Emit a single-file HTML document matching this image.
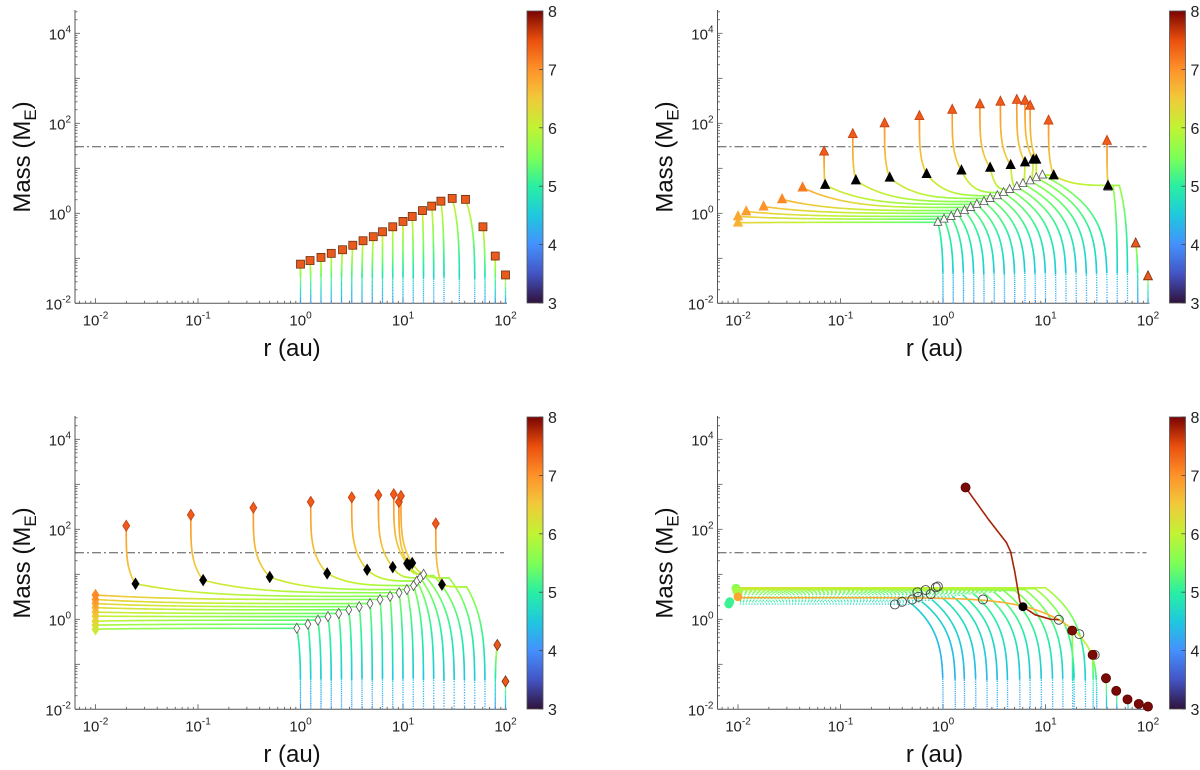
<!DOCTYPE html>
<html><head><meta charset="utf-8"><style>
html,body{margin:0;padding:0;background:#fff;}
svg{display:block;font-family:"Liberation Sans",Arial,sans-serif;}
</style></head><body>
<svg id="fig" width="1200" height="770" viewBox="0 0 1200 770" xmlns="http://www.w3.org/2000/svg"></svg>
<script>
// ---------- DATA (log10 r [au], log10 M [M_E]) ----------
// Panel 1 (top-left)
const p1R0 = [0,0.1,0.2,0.3,0.4,0.5,0.6,0.7,0.8,0.9,1.0,1.1,1.2,1.3,1.4,1.55,1.7,1.8,1.9,2.0];
const p1Rf = [0,0.093,0.2,0.3,0.41,0.51,0.61,0.71,0.8,0.9,1.0,1.09,1.19,1.28,1.37,1.48,1.61,1.78,1.9,2.0];
const p1Mf = [-1.13,-1.05,-0.98,-0.89,-0.81,-0.71,-0.61,-0.52,-0.41,-0.30,-0.18,-0.07,0.06,0.16,0.27,0.33,0.31,-0.30,-0.95,-1.37];

// Panel 2 (top-right)
const p2R0    = [0,0.1,0.2,0.3,0.4,0.5,0.6,0.7,0.8,0.9,1.0,1.1,1.2,1.3,1.4,1.5,1.6,1.7,1.8,1.9,2.0];
const p2TurnR = [-0.05,0.01,0.08,0.14,0.21,0.27,0.33,0.40,0.46,0.53,0.59,0.65,0.72,0.78,0.85,0.91,0.97,1.66,1.72,1.88,2.0];
const p2TurnM = [-0.2,-0.13,-0.07,0.0,0.06,0.13,0.2,0.26,0.33,0.39,0.46,0.53,0.59,0.66,0.72,0.79,0.85,0.58,0.62,-0.67,-1.4];
const p2EndR  = [-2,-2,-1.92,-1.75,-1.57,-1.37,-1.15,-0.85,-0.52,-0.16,0.18,0.46,0.66,0.80,0.88,0.91,1.08,1.61,1.1,1.88,2.0];
const p2EndM  = [-0.21,-0.07,0.04,0.15,0.31,0.57,0.63,0.73,0.79,0.87,0.95,1.01,1.07,1.13,1.19,1.19,0.84,0.61,0.82,-0.67,-1.4];
const p2GasR  = [null,null,null,null,null,null,-1.16,-0.88,-0.57,-0.23,0.09,0.36,0.56,0.72,0.80,0.85,1.03,1.60,null,null,null];
const p2GasM  = [null,null,null,null,null,null,1.37,1.76,2.0,2.16,2.30,2.42,2.48,2.52,2.50,2.39,2.06,1.61,null,null,null];
const p2Kind  = ['L','L','L','L','L','L','G','G','G','G','G','G','G','G','G','G','G','G','N','S','S'];
const p2OpenR = [-0.05,0.01,0.08,0.14,0.21,0.27,0.33,0.40,0.46,0.53,0.59,0.65,0.72,0.78,0.85,0.91,0.97,1.61];
const p2OpenM = [-0.2,-0.13,-0.07,0.0,0.06,0.13,0.2,0.26,0.33,0.39,0.46,0.53,0.59,0.66,0.72,0.79,0.85,0.58];

// Panel 3 (bottom-left)
const p3R0    = [0,0.1,0.2,0.3,0.4,0.5,0.6,0.7,0.8,0.9,1.0,1.1,1.2,1.3,1.4,1.5,1.6,1.7,1.8,1.9,2.0];
const p3TurnR = [-0.036,0.072,0.170,0.268,0.373,0.471,0.573,0.678,0.776,0.874,0.962,1.038,1.103,1.136,1.169,1.201,1.3,1.45,1.62,1.92,2.0];
const p3TurnM = [-0.20,-0.11,-0.02,0.06,0.13,0.21,0.28,0.35,0.44,0.51,0.59,0.66,0.75,0.85,0.92,1.0,0.97,0.92,0.72,-0.57,-1.38];
const p3EndR  = [-2,-2,-2,-2,-2,-2,-2,-2,-2,-1.61,-0.95,-0.30,0.26,0.65,0.90,1.04,1.06,1.09,1.38,1.92,2.0];
const p3EndM  = [-0.22,-0.13,-0.04,0.07,0.16,0.26,0.35,0.44,0.54,0.79,0.87,0.94,1.02,1.10,1.16,1.24,1.20,1.25,0.77,-0.57,-1.38];
const p3GasR  = [null,null,null,null,null,null,null,null,null,-1.70,-1.07,-0.46,0.10,0.50,0.76,0.91,0.96,0.98,1.32,null,null];
const p3GasM  = [null,null,null,null,null,null,null,null,null,2.08,2.32,2.48,2.61,2.71,2.76,2.78,2.61,2.74,2.13,null,null];
const p3Kind  = ['L','L','L','L','L','L','L','L','L','G','G','G','G','G','G','G','G','G','G','S','S'];
const p3OpenR = [-0.036,0.072,0.170,0.268,0.373,0.471,0.573,0.678,0.776,0.874,0.962,1.038,1.103,1.136,1.169,1.201];
const p3OpenM = [-0.20,-0.11,-0.02,0.06,0.13,0.21,0.28,0.35,0.44,0.51,0.59,0.66,0.75,0.85,0.92,1.0];

// Panel 4 (bottom-right)
const p4R0    = [0,0.12,0.21,0.32,0.43,0.53,0.63,0.75,0.85,0.96,1.07,1.17,1.28,1.39,1.5];
const p4TurnR = [-0.3,-0.2,-0.1,0.0,0.1,0.2,0.3,0.4,0.5,0.6,0.7,0.8,0.9,1.0,1.13];
const p4TurnM = [0.33,0.38,0.42,0.46,0.5,0.53,0.56,0.58,0.6,0.62,0.64,0.66,0.68,0.7,-0.01];
const p4EndM  = [0.34,0.39,0.42,0.46,0.5,0.55,0.58,0.6,0.62,0.64,0.66,0.68,0.69,0.7,0.48];
const p4Col   = [4.6,4.7,4.8,4.9,5.0,5.1,5.2,5.3,5.4,5.5,5.6,5.7,5.8,5.9,6.7];
const p4RedR  = [0.22,0.45,0.62,0.66,0.70,0.75,0.78,0.9,1.05,1.13];
const p4RedM  = [2.93,2.2,1.7,1.5,1.06,0.39,0.28,0.1,0.0,-0.01];
const p4FinR  = [1.26,1.46,1.59,1.69,1.80,1.91,2.0];
const p4FinM  = [-0.25,-0.79,-1.31,-1.59,-1.78,-1.88,-1.94];
const p4OpenR = [-0.47,-0.40,-0.30,-0.24,-0.25,-0.17,-0.12,-0.07,-0.05,0.39,1.13,1.33,1.48];
const p4OpenM = [0.33,0.39,0.44,0.5,0.6,0.65,0.56,0.71,0.73,0.44,-0.01,-0.33,-0.79];
const p4LeftR = [-2.08,-2.09,-2.02,-2.01,-2.0];
const p4LeftM = [0.39,0.34,0.69,0.62,0.5];
const p4LeftC = [5.1,5.1,5.6,5.8,6.8];

const xTicks = [-2,-1,0,1,2];
const yTicks = [-2,0,2,4];
const cbTicks = [3,4,5,6,7,8];
const critM = 1.48;

// ---------- helpers ----------
const NS = "http://www.w3.org/2000/svg";
const svg = document.getElementById('fig');
function mk(tag, attrs, parent){const e=document.createElementNS(NS,tag);for(const k in attrs)e.setAttribute(k,attrs[k]);(parent||svg).appendChild(e);return e;}
const turboStops=[[0,'#30123b'],[0.1,'#4454c4'],[0.2,'#4490fe'],[0.3,'#1fc8de'],[0.4,'#29efa2'],[0.5,'#7dff56'],[0.6,'#c1f334'],[0.7,'#f1ca3a'],[0.8,'#fe922a'],[0.9,'#ea4f0d'],[1,'#7a0403']];
function hex(h){return [parseInt(h.substr(1,2),16),parseInt(h.substr(3,2),16),parseInt(h.substr(5,2),16)];}
function turbo(c){let v=Math.max(0,Math.min(1,(c-3)/5));for(let i=0;i<turboStops.length-1;i++){const a=turboStops[i],b=turboStops[i+1];if(v<=b[0]){const t=(v-a[0])/(b[0]-a[0]);const A=hex(a[1]),B=hex(b[1]);return 'rgb('+A.map((x,j)=>Math.round(x+(B[j]-x)*t)).join(',')+')';}}return '#7a0403';}

function makePanel(ox, oy, name){
  const g = mk('g',{});
  
  
  const X = lr => ox + 95.5 + (lr+2)*102.5;
  const Y = lm => oy + 213.3 - lm*45;
  const L = ox+75, R = ox+507, T = oy+10, B = oy+303.3;
  const ax = mk('g',{},g);
  
  
  mk('line',{x1:L,y1:B,x2:R,y2:B,stroke:'#555','stroke-width':1},ax);
  mk('line',{x1:L,y1:T,x2:L,y2:B,stroke:'#555','stroke-width':1},ax);
  for(let d=-3; d<=2; d++){for(let m=1;m<10;m++){const lr=d+Math.log10(m);const x=X(lr);if(x<L||x>R)continue;mk('line',{x1:x,y1:B,x2:x,y2:B-(m===1?5:2.5),stroke:'#555','stroke-width':0.8},ax);}}
  for(let d=-2; d<=4; d++){for(let m=1;m<10;m++){const lm=d+Math.log10(m);const y=Y(lm);if(y<T||y>B)continue;mk('line',{x1:L,y1:y,x2:L+(m===1?5:2.5),y2:y,stroke:'#555','stroke-width':0.8},ax);}}
  xTicks.forEach(v=>{const t=mk('text',{x:X(v),y:B+22,'text-anchor':'middle','font-size':15,fill:'#222'},ax);
    
    
    t.textContent='10';const s=mk('tspan',{dy:-7,'font-size':10},t);s.textContent=String(v);});
  yTicks.forEach(v=>{const t=mk('text',{x:L-4,y:Y(v)+6,'text-anchor':'end','font-size':15,fill:'#222'},ax);
    
    
    t.textContent='10';const s=mk('tspan',{dy:-7,'font-size':10},t);s.textContent=String(v);});
  const xl = mk('text',{x:ox+292,y:oy+356,'text-anchor':'middle','font-size':24,fill:'#111'},g);
  
  
  xl.textContent='r (au)';
  const yl = mk('text',{transform:'translate('+(ox+30)+','+(oy+157)+') rotate(-90)','text-anchor':'middle','font-size':24,fill:'#111'},g);
  
  
  yl.textContent='Mass (M';
  const s1=mk('tspan',{dy:6,'font-size':17},yl);s1.textContent='E';
  const s2=mk('tspan',{dy:-6},yl);s2.textContent=')';
  const dl = mk('line',{x1:L,y1:Y(critM),x2:ox+504,y2:Y(critM),stroke:'#555','stroke-width':1,'stroke-dasharray':'9 3 2 3'},g);
  
  
  const gid='cbg'+name;
  const defs=mk('defs',{},g);
  const lg=mk('linearGradient',{id:gid,x1:0,y1:1,x2:0,y2:0},defs);
  for(let i=0;i<=20;i++){mk('stop',{offset:(i/20),'stop-color':turbo(3+5*i/20)},lg);}
  const cb=mk('rect',{x:ox+527,y:oy+11,width:16,height:292,fill:'url(#'+gid+')',stroke:'#555','stroke-width':0.8},g);
  
  
  cbTicks.forEach(v=>{const y=oy+303-(v-3)/5*292;
    mk('line',{x1:ox+539,y1:y,x2:ox+543,y2:y,stroke:'#444','stroke-width':0.8},g);
    const t=mk('text',{x:ox+548,y:y+6,'font-size':16,fill:'#222'},g);
    
    
    t.textContent=String(v);});
  const data = mk('g',{},g);
  
  
  const mg = mk('g',{},g);
  
  
  return {X,Y,data,mg};
}

function drawPts(P, pts, dotBelow, dotAll){
  for(let i=0;i<pts.length-1;i++){
    const a=pts[i],b=pts[i+1];
    const isDot = dotAll || (dotBelow!==null && b[1]<dotBelow);
    const ln=mk('line',{x1:P.X(a[0]).toFixed(2),y1:P.Y(a[1]).toFixed(2),x2:P.X(b[0]).toFixed(2),y2:P.Y(b[1]).toFixed(2),stroke:turbo((a[2]+b[2])/2),'stroke-width':isDot?1.3:1.6,'stroke-linecap':isDot?'butt':'round'},P.data);
    if(isDot) ln.setAttribute('stroke-dasharray','1.2 2.2');
    
    
  }
}
function growth(r0, tr, tm, c0, c1, n){const p=[];for(let i=0;i<=n;i++){const t=i/n;p.push([r0+(tr-r0)*Math.pow(t,4), -2+(tm+2)*t, c0+(c1-c0)*t]);}return p;}
function migrate(tr,tm,er,em,c0,c1,n,mode){const p=[];for(let i=0;i<=n;i++){const s=i/n;const f=mode==='late'?Math.pow(s,4):1-Math.pow(1-s,8);p.push([tr+(er-tr)*s, tm+(em-tm)*f, c0+(c1-c0)*s]);}return p;}
function gas(br,bm,gr,gm,n){const p=[];for(let i=0;i<=n;i++){const t=i/n;p.push([gr+(br-gr)*Math.pow(1-t,4), bm+(gm-bm)*t, 6.4+0.6*t]);}return p;}

function marker(P, shape, lr, lm, fill, stroke, nm, size){
  const x=P.X(lr), y=P.Y(lm), s=size||4.5; let e;
  if(shape==='square') e=mk('rect',{x:x-s,y:y-s,width:2*s,height:2*s,fill,stroke,'stroke-width':0.8},P.mg);
  else if(shape==='tri') e=mk('polygon',{points:`${x},${y-s-1} ${x-s},${y+s-1} ${x+s},${y+s-1}`,fill,stroke,'stroke-width':0.8},P.mg);
  else if(shape==='dia') e=mk('polygon',{points:`${x},${y-s-1} ${x+s-1},${y} ${x},${y+s+1} ${x-s+1},${y}`,fill,stroke,'stroke-width':0.8},P.mg);
  else e=mk('circle',{cx:x,cy:y,r:s,fill,stroke,'stroke-width':0.9},P.mg);
  
  
}

// ---------- Panel 1 ----------
(function(){
  const P = makePanel(0,0,'panel-top-left');
  p1R0.forEach((r0,k)=>{ drawPts(P, growth(r0,p1Rf[k],p1Mf[k],4.1,6.2,50), -1.4, false); });
  p1R0.forEach((r0,k)=>{ marker(P,'square',p1Rf[k],p1Mf[k],'#ea5a1c','#6b3010','final-mass-square',4); });
})();

// ---------- Panels 2 & 3 ----------
function pebblePanel(ox,oy,name,R0,TR,TM,ER,EM,GR,GM,KIND,OR,OM,shape,leftBase,leftStep){
  const P = makePanel(ox,oy,name);
  R0.forEach((r0,k)=>{
    const cT = 5.2 + 0.03*k;
    drawPts(P, growth(r0,TR[k],TM[k],4.1,cT,50), -1.3, false);
    if(KIND[k]!=='S'){
      const cE = KIND[k]==='L' ? leftBase+leftStep*k : 6.2;
      drawPts(P, migrate(TR[k],TM[k],ER[k],EM[k],cT,cE,60,'late'), null, false);
    }
    if(KIND[k]==='G') drawPts(P, gas(ER[k],EM[k],GR[k],GM[k],40), null, false);
  });
  OR.forEach((r,i)=>marker(P,shape,r,OM[i],'#fff','#555','isolation-marker-open',4));
  R0.forEach((r0,k)=>{
    if(KIND[k]==='G'){ marker(P,shape,ER[k],EM[k],'#000','#000','gas-onset-marker',4.5); marker(P,shape,GR[k],GM[k],'#f05a1a','#c04010','final-giant-marker',4.5); }
    else if(KIND[k]==='L'){ const c=Math.min(7.2,leftBase+0.3+leftStep*1.2*k); marker(P,shape,ER[k],EM[k],turbo(c),turbo(c),'final-inner-marker',4.5); }
    else if(KIND[k]==='S'){ marker(P,shape,ER[k],EM[k],'#ea5a1c','#7a3010','final-outer-marker',4.5); }
  });
}
pebblePanel(642.5,0,'panel-top-right',p2R0,p2TurnR,p2TurnM,p2EndR,p2EndM,p2GasR,p2GasM,p2Kind,p2OpenR,p2OpenM,'tri',6.4,0.08);
pebblePanel(0,406,'panel-bottom-left',p3R0,p3TurnR,p3TurnM,p3EndR,p3EndM,p3GasR,p3GasM,p3Kind,p3OpenR,p3OpenM,'dia',5.8,0.1);

// ---------- Panel 4 ----------
(function(){
  const P = makePanel(642.5,406,'panel-bottom-right');
  p4R0.forEach((r0,k)=>{
    const orange = k===p4R0.length-1;
    drawPts(P, growth(r0,p4TurnR[k],p4TurnM[k],4.1,p4Col[k],50), -1.3, false);
    drawPts(P, migrate(p4TurnR[k],p4TurnM[k],-2,p4EndM[k],p4Col[k],orange?6.8:p4Col[k]+0.3,60,'early'), null, !orange && k<10);
  });
  p4FinR.forEach((r,i)=>drawPts(P, growth(r+0.005,r,p4FinM[i],4.2,5.8,30), -1.3, false));
  const redPts = p4RedR.map((r,i)=>[r,p4RedM[i],7.8]);
  drawPts(P, redPts, null, false);
  p4LeftR.forEach((r,i)=>marker(P,'circle',r,p4LeftM[i],turbo(p4LeftC[i]),turbo(p4LeftC[i]),'inner-planet-marker',4));
  p4OpenR.forEach((r,i)=>marker(P,'circle',r,p4OpenM[i],'none','#444','isolation-marker-open',4.5));
  p4FinR.forEach((r,i)=>marker(P,'circle',r,p4FinM[i],'#7a0a05','#5a0503','final-outer-marker',4.5));
  marker(P,'circle',p4RedR[0],p4RedM[0],'#7a0a05','#5a0503','giant-final-marker',4.5);
  marker(P,'circle',p4RedR[6],p4RedM[6],'#000','#000','gas-onset-marker',4);
})();
</script>
</body></html>
